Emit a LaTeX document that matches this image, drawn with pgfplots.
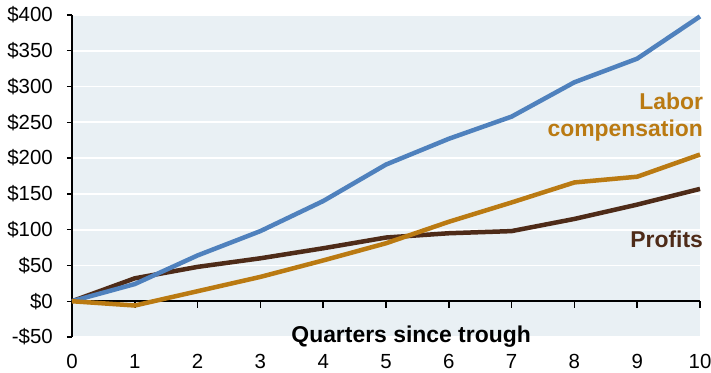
\documentclass[border=0pt]{standalone}
\usepackage{fontspec}
\setmainfont{Liberation Sans}
\usepackage{pgfplots}
\pgfplotsset{compat=1.18}

\definecolor{bgblue}{HTML}{E9F0F4}
\definecolor{totblue}{HTML}{4F81BD}
\definecolor{laborc}{HTML}{BA7A12}
\definecolor{profitc}{HTML}{4E2B18}

\newcommand{\labelfont}{\fontsize{23}{27}\selectfont\bfseries}

\begin{document}
\begin{tikzpicture}
\begin{axis}[
  scale only axis,
  width=628bp, height=322bp,
  xmin=0, xmax=10,
  ymin=-50, ymax=400,
  clip=false,
  axis background/.style={fill=bgblue},
  axis x line*=bottom,
  axis y line*=left,
  x axis line style={draw=none},
  y axis line style={line width=1.6bp, black, -},
  xtick={0,...,10},
  xticklabels={0,1,2,3,4,5,6,7,8,9,10},
  xtick style={draw=none},
  ytick={-50,0,50,...,400},
  yticklabels={-\$50,\$0,\$50,\$100,\$150,\$200,\$250,\$300,\$350,\$400},
  tick align=outside,
  ytick style={line width=1.4bp, black},
  major tick length=5bp,
  ymajorgrids,
  grid style={white, line width=1.8bp},
  tick label style={font=\fontsize{20.5}{24}\selectfont, text=black},
  xticklabel style={inner sep=0pt, anchor=north, yshift=-12bp},
  yticklabel style={inner sep=0pt, anchor=east, xshift=-14bp},
]
% zero line with short downward ticks at each quarter
\draw[black, line width=1.6bp] (axis cs:0,0) -- (axis cs:10,0);
\draw[black, line width=1.6bp] (axis cs:1,0) -- (axis cs:1,-9);
\draw[black, line width=1.6bp] (axis cs:2,0) -- (axis cs:2,-9);
\draw[black, line width=1.6bp] (axis cs:3,0) -- (axis cs:3,-9);
\draw[black, line width=1.6bp] (axis cs:4,0) -- (axis cs:4,-9);
\draw[black, line width=1.6bp] (axis cs:5,0) -- (axis cs:5,-9);
\draw[black, line width=1.6bp] (axis cs:6,0) -- (axis cs:6,-9);
\draw[black, line width=1.6bp] (axis cs:7,0) -- (axis cs:7,-9);
\draw[black, line width=1.6bp] (axis cs:8,0) -- (axis cs:8,-9);
\draw[black, line width=1.6bp] (axis cs:9,0) -- (axis cs:9,-9);
\draw[black, line width=1.6bp] (axis cs:10,0) -- (axis cs:10,-9);

% Profits
\addplot[profitc, line width=4.5bp, line join=round] coordinates {
  (0,0) (1,32) (2,48) (3,60) (4,74) (5,89) (6,95) (7,98) (8,115) (9,135) (10,157)
};
% Total
\addplot[totblue, line width=4.5bp, line join=round] coordinates {
  (0,0) (1,24) (2,64) (3,98) (4,140) (5,191) (6,227) (7,258) (8,306) (9,339) (10,398)
};
% Labor compensation
\addplot[laborc, line width=4.5bp, line join=round] coordinates {
  (0,0) (1,-6) (2,14) (3,34) (4,57) (5,81) (6,111) (7,138) (8,166) (9,174) (10,205)
};

\node[anchor=base east, text=laborc, font=\labelfont, inner sep=0pt]
  at (axis cs:10.05,268.5) {Labor};
\node[anchor=base east, text=laborc, font=\labelfont, inner sep=0pt]
  at (axis cs:10.05,230.7) {compensation};
\node[anchor=base east, text=profitc, font=\labelfont, inner sep=0pt]
  at (axis cs:10.05,75.6) {Profits};
\node[anchor=base, font=\labelfont, inner sep=0pt]
  at (axis cs:5.4,-57) {Quarters since trough};
\end{axis}
% page frame: plot area is 628 x 322, placed at (72,36) inside a 711 x 373 page
\pgfresetboundingbox
\path[use as bounding box] (-72bp,-36bp) rectangle (639bp,337bp);
\end{tikzpicture}
\end{document}
